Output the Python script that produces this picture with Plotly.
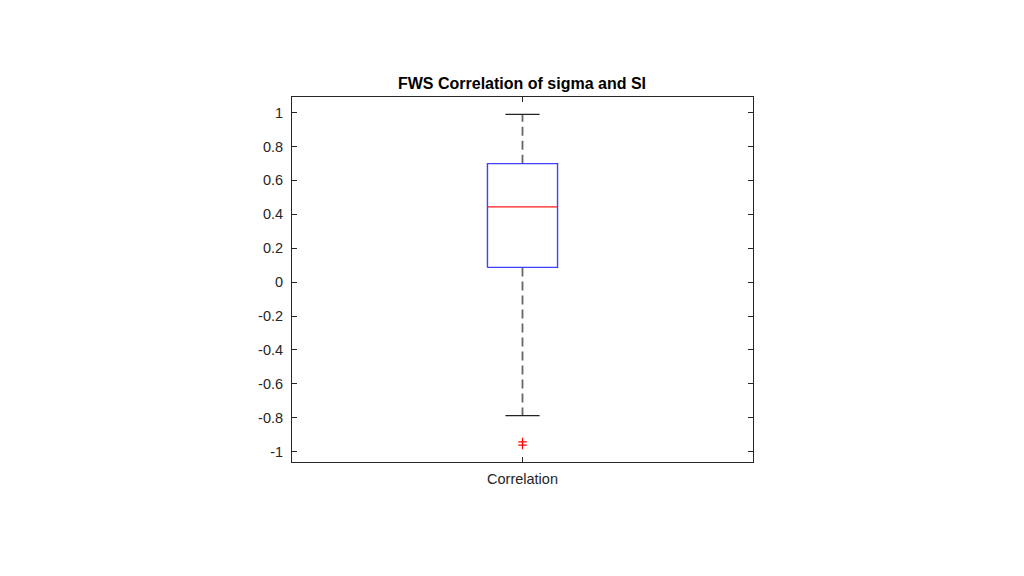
import plotly.graph_objects as go

category = "Correlation"
x_pos = [1.0]
q1 = [0.087]
median = [0.444]
q3 = [0.699]
lower_whisker = [-0.788]
upper_whisker = [0.99]
outliers = [-0.942, -0.961]
ytick_vals = [1, 0.8, 0.6, 0.4, 0.2, 0, -0.2, -0.4, -0.6, -0.8, -1]
ytick_text = ["1", "0.8", "0.6", "0.4", "0.2", "0", "-0.2", "-0.4", "-0.6", "-0.8", "-1"]

box_half = 0.076
cap_half = 0.037
xc = x_pos[0]

fig = go.Figure()
# whiskers (dashed)
fig.add_trace(go.Scatter(x=[xc, xc], y=[q3[0], upper_whisker[0]], mode="lines",
                         line=dict(color="#666666", width=1.8, dash="9px,5px"), hoverinfo="skip"))
fig.add_trace(go.Scatter(x=[xc, xc], y=[q1[0], lower_whisker[0]], mode="lines",
                         line=dict(color="#666666", width=1.8, dash="9px,5px"), hoverinfo="skip"))
# caps
for w in (upper_whisker[0], lower_whisker[0]):
    fig.add_trace(go.Scatter(x=[xc - cap_half, xc + cap_half], y=[w, w], mode="lines",
                             line=dict(color="#222222", width=1.2), hoverinfo="skip"))
# box
fig.add_trace(go.Scatter(x=[xc - box_half, xc + box_half, xc + box_half, xc - box_half, xc - box_half],
                         y=[q1[0], q1[0], q3[0], q3[0], q1[0]], mode="lines",
                         line=dict(color="#4040ff", width=1.4), hoverinfo="skip"))
# median
fig.add_trace(go.Scatter(x=[xc - box_half, xc + box_half], y=[median[0], median[0]], mode="lines",
                         line=dict(color="#ff1a1a", width=1.2), hoverinfo="skip"))
# outliers
fig.add_trace(go.Scatter(x=[xc] * len(outliers), y=outliers, mode="markers",
                         marker=dict(symbol="cross-thin", size=6, line=dict(color="red", width=1.2)),
                         hoverinfo="skip"))

axis_font = dict(family="Liberation Sans, Arial, sans-serif", size=14.5, color="#262626")
fig.update_layout(
    width=1024, height=576,
    showlegend=False,
    plot_bgcolor="white", paper_bgcolor="white",
    margin=dict(l=284, r=279, t=89, b=122),
    title=dict(text="<b>FWS Correlation of sigma and SI</b>", x=(522 - 8) / 1024, xanchor="center",
               y=1 - 75 / 576, yanchor="middle",
               font=dict(family="Liberation Sans, Arial, sans-serif", size=16, color="black")),
    xaxis=dict(range=[0.5, 1.5], tickvals=x_pos, ticktext=[category], ticks="inside", ticklen=5,
               tickcolor="#262626", showline=True, linecolor="#262626", linewidth=1, mirror="ticks",
               showgrid=False, zeroline=False, tickfont=axis_font, fixedrange=True,
               ticklabelstandoff=4),
    yaxis=dict(range=[-1.061, 1.092], tickvals=ytick_vals, ticktext=ytick_text, ticks="inside", ticklen=5,
               tickcolor="#262626", showline=True, linecolor="#262626", linewidth=1, mirror="ticks",
               showgrid=False, zeroline=False, tickfont=axis_font, fixedrange=True,
               ticklabelstandoff=5),
)

fig.write_html("out.html")
